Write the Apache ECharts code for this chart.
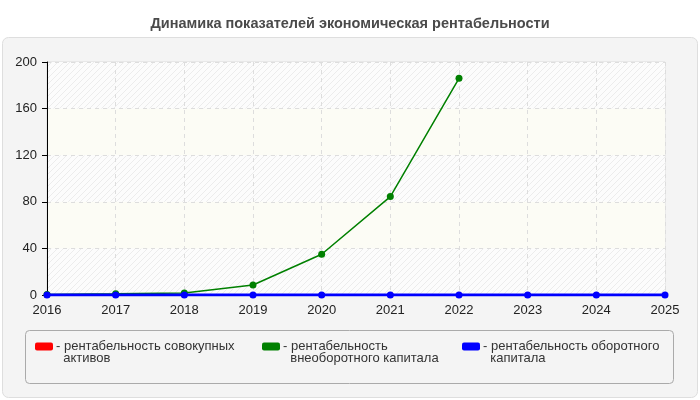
<!DOCTYPE html>
<html><head><meta charset="utf-8">
<script src="https://cdn.jsdelivr.net/npm/echarts@6/dist/echarts.min.js"></script>
<style>html,body{margin:0;padding:0;background:#fff}#c{width:700px;height:400px}</style>
</head><body><div id="c"></div>
<script>
const years = ['2016','2017','2018','2019','2020','2021','2022','2023','2024','2025'];
const seriesNames = ['рентабельность совокупных активов','рентабельность внеоборотного капитала','рентабельность оборотного капитала'];
const legendLabels = ['рентабельность совокупных\nактивов','рентабельность\nвнеоборотного капитала','рентабельность оборотного\nкапитала'];
const totalAssets = [0,0,0,0,0,0,0,0,0,0];
const nonCurrent = [0.5,1,1.7,8.6,35,84.5,186,null,null,null];
const current = [0,0,0,0,0,0,0,0,0,0];
const colors = ['#ff0000','#008000','#0000ff'];

function hatch() {
  const c = document.createElement('canvas');
  c.width = 6; c.height = 6;
  const g = c.getContext('2d');
  g.fillStyle = '#fcfcfc'; g.fillRect(0, 0, 6, 6);
  g.strokeStyle = '#ececec'; g.lineWidth = 1;
  g.beginPath();
  g.moveTo(-1, 7); g.lineTo(7, -1);
  g.moveTo(-1, 1); g.lineTo(1, -1);
  g.moveTo(5, 7); g.lineTo(7, 5);
  g.stroke();
  return {image: c, repeat: 'repeat'};
}

const chart = echarts.init(document.getElementById('c'));
const font = 'Arial, "Liberation Sans", sans-serif';
function legendFor(i, left) {
  return {
    left: left, top: 323, data: [seriesNames[i]],
    itemWidth: 18, itemHeight: 8, icon: 'roundRect', itemGap: 0,
    formatter: () => ' \n- ' + legendLabels[i].replace('\n', '\n  '),
    textStyle: {fontFamily: font, fontSize: 13, color: '#333', lineHeight: 12, padding: [0,0,0,-2]},
    selectedMode: false
  };
}
chart.setOption({
  animation: false,
  backgroundColor: '#ffffff',
  title: {text: 'Динамика показателей экономическая рентабельности', left: 'center', top: 11,
    textStyle: {fontFamily: font, fontSize: 14.5, fontWeight: 'bold', color: '#4a4a4a'}},
  graphic: [
    {type: 'rect', shape: {x: 2.5, y: 37.5, width: 695, height: 360, r: 6}, style: {fill: '#f4f4f4', stroke: '#dedede', lineWidth: 1}, z: -10},
    {type: 'rect', shape: {x: 25.5, y: 330.5, width: 648, height: 53, r: 4}, style: {fill: '#f4f4f4', stroke: '#aaaaaa', lineWidth: 1}, z: -5},
    {type: 'rect', shape: {x: 47, y: 62, width: 618, height: 233}, style: {fill: '#fcfcfc', stroke: '#dddddd', lineWidth: 1}, z: -8}
  ],
  legend: [legendFor(0, 30), legendFor(1, 257), legendFor(2, 457)],
  grid: {left: 47, right: 35, top: 62, bottom: 105, containLabel: false},
  xAxis: {
    type: 'category', data: years, boundaryGap: false,
    axisLine: {show: true, lineStyle: {color: '#000', width: 1}},
    axisTick: {show: false},
    axisLabel: {fontFamily: font, fontSize: 13, color: '#222', margin: 9},
    splitLine: {show: true, lineStyle: {color: '#dddddd', type: [4,4]}}
  },
  yAxis: {
    type: 'value', min: 0, max: 200, interval: 40,
    axisLine: {show: true, lineStyle: {color: '#000', width: 1}},
    axisTick: {show: true, length: 5, lineStyle: {color: '#000'}},
    axisLabel: {fontFamily: font, fontSize: 13, color: '#222', margin: 10},
    splitLine: {show: true, lineStyle: {color: '#dddddd', type: [4,4]}},
    splitArea: {show: true, areaStyle: {color: [hatch(), '#fcfcf5']}}
  },
  series: [
    {name: seriesNames[0], type: 'line', data: totalAssets, color: colors[0], symbol: 'circle', symbolSize: 6, lineStyle: {width: 2}},
    {name: seriesNames[1], type: 'line', data: nonCurrent, color: colors[1], symbol: 'circle', symbolSize: 7, lineStyle: {width: 1.5}, z: 3},
    {name: seriesNames[2], type: 'line', data: current, color: colors[2], symbol: 'circle', symbolSize: 7, lineStyle: {width: 3}, z: 4}
  ]
});
</script></body></html>
